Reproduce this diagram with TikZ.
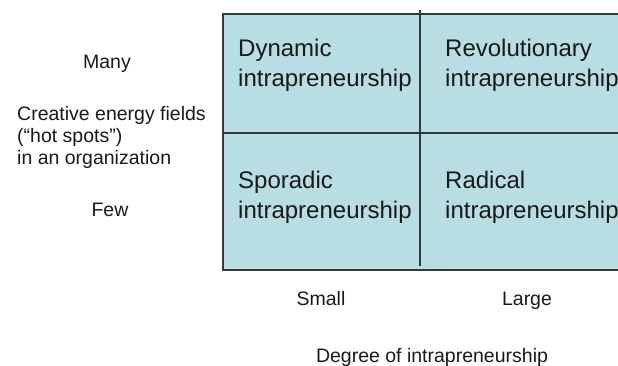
\documentclass[tikz,border=0pt]{standalone}
\usepackage{fontspec}
\setmainfont{Liberation Sans}
\definecolor{cellblue}{RGB}{184,221,226}
\definecolor{linegray}{RGB}{50,58,60}
\begin{document}
\begin{tikzpicture}[x=1pt,y=-1pt,
  celltext/.style={anchor=base west,inner sep=0pt,align=left,font=\fontsize{24}{29.5}\selectfont,text=black!90},
  sidetext/.style={inner sep=0pt,font=\fontsize{19.5}{21.8}\selectfont,text=black!90},
  gridline/.style={draw=linegray,line width=1.3pt}]
\useasboundingbox (0,0) rectangle (618,365);
% matrix background
\fill[cellblue] (223,14) rectangle (630,270);
\coordinate (tl) at (223,14);
\coordinate (tr) at (630,14);
\coordinate (bl) at (223,270);
\coordinate (br) at (630,270);
\coordinate (vtop) at (420,10);
\coordinate (vbot) at (420,266);
\coordinate (hl) at (223,133);
\coordinate (hr) at (630,133);
\draw[gridline] (tr) -- (tl) -- (bl) -- (br);
\draw[gridline] (vtop) -- (vbot);
\draw[gridline] (hl) -- (hr);
% cells (base anchor = last line baseline)
\node[celltext] (dyn) at (238,86) {Dynamic\\intrapreneurship};
\node[celltext] (rev) at (445,86) {Revolutionary\\intrapreneurship};
\node[celltext] (spo) at (238,218) {Sporadic\\intrapreneurship};
\node[celltext] (rad) at (445,218) {Radical\\intrapreneurship};
% side labels
\node[sidetext,anchor=base] (many) at (107,68) {Many};
\node[sidetext,anchor=base west,align=left] (cef) at (17,164) {Creative energy fields\\(“hot spots”)\\in an organization};
\node[sidetext,anchor=base] (few) at (110,216) {Few};
\node[sidetext,anchor=base] (small) at (321,305) {Small};
\node[sidetext,anchor=base] (large) at (527,305) {Large};
\node[sidetext,anchor=base] (deg) at (432,362) {Degree of intrapreneurship};
\end{tikzpicture}
\end{document}
